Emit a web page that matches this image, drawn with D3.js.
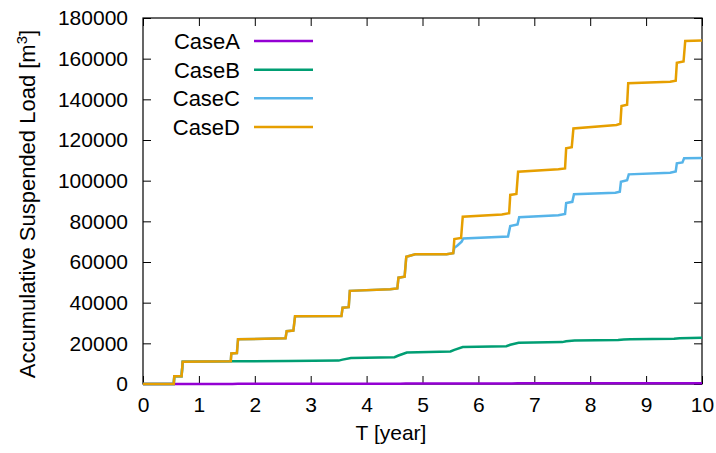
<!DOCTYPE html>
<html>
<head>
<meta charset="utf-8">
<script src="https://cdn.jsdelivr.net/npm/d3@7"></script>
<style>
  html, body { margin: 0; padding: 0; background: #fff; }
  svg { display: block; }
  text { font-family: "Liberation Sans", Arial, Helvetica, sans-serif; fill: #000; }
</style>
</head>
<body>
<svg id="chart" width="716" height="453"></svg>
<script>
// ---- data ----
const seriesNames = ["CaseA", "CaseB", "CaseC", "CaseD"];
const seriesColors = ["#9400d3", "#009e73", "#56b4e9", "#e69f00"];
const xTicks = [0, 1, 2, 3, 4, 5, 6, 7, 8, 9, 10];
const yTicks = [0, 20000, 40000, 60000, 80000, 100000, 120000, 140000, 160000, 180000];

const caseATime  = [0, 0.55, 0.6, 1.6, 1.7, 2.6, 2.7, 3.6, 3.7, 4.6, 4.7, 5.6, 5.7, 6.6, 6.7, 7.6, 7.7, 8.6, 8.7, 9.6, 9.7, 10];
const caseAValue = [0, 0, 30, 40, 80, 90, 120, 130, 170, 180, 220, 230, 270, 280, 310, 320, 350, 360, 390, 400, 420, 430];

const caseBTime  = [0, 0.55, 0.56, 0.69, 0.71, 1.57, 2.6, 3.5, 3.57, 3.72, 4.5, 4.57, 4.72, 5.5, 5.57, 5.72, 6.5, 6.57, 6.72, 7.5, 7.57, 7.72, 8.5, 8.6, 8.72, 9.5, 9.6, 10];
const caseBValue = [0, 0, 3800, 3800, 11000, 11200, 11300, 11500, 12000, 12800, 13200, 14000, 15500, 16000, 16800, 18200, 18600, 19300, 20300, 20600, 21000, 21400, 21600, 21900, 22000, 22200, 22500, 22700];

const caseCTime  = [0, 0.55, 0.56, 0.69, 0.71, 1.57, 1.58, 1.68, 1.70, 2.55, 2.57, 2.69, 2.72, 3.55, 3.57, 3.68, 3.70, 4.42, 4.55, 4.57, 4.68, 4.71, 4.87, 5.43, 5.55, 5.57, 5.62, 5.70, 5.73, 6.53, 6.57, 6.70, 6.73, 7.43, 7.55, 7.57, 7.68, 7.71, 8.45, 8.53, 8.55, 8.66, 8.69, 9.43, 9.53, 9.55, 9.65, 9.68, 10];
const caseCValue = [0, 0, 3800, 3800, 11000, 11200, 15000, 15200, 22000, 22500, 26000, 26300, 33300, 33400, 37500, 37800, 45800, 46600, 47000, 52300, 52800, 62600, 63800, 63800, 64300, 67000, 68000, 70000, 71600, 72500, 77700, 78500, 82000, 83000, 83600, 89000, 89600, 93300, 94100, 94600, 99500, 100200, 103100, 103900, 104500, 108500, 109000, 111000, 111200];

const caseDTime  = [0, 0.55, 0.56, 0.69, 0.71, 1.57, 1.58, 1.68, 1.70, 2.55, 2.57, 2.69, 2.72, 3.55, 3.57, 3.68, 3.70, 4.42, 4.55, 4.57, 4.68, 4.71, 4.87, 5.43, 5.55, 5.57, 5.69, 5.72, 6.42, 6.55, 6.57, 6.68, 6.71, 7.43, 7.55, 7.57, 7.67, 7.70, 8.47, 8.54, 8.56, 8.66, 8.68, 9.43, 9.53, 9.55, 9.67, 9.70, 10];
const caseDValue = [0, 0, 3800, 3800, 11000, 11200, 15000, 15200, 22000, 22500, 26000, 26300, 33300, 33400, 37500, 37800, 45800, 46600, 47000, 52300, 52800, 62600, 63800, 63800, 64300, 71300, 71800, 82300, 83400, 84000, 93000, 93500, 104400, 105600, 106000, 115900, 116500, 125700, 127400, 128000, 136700, 137300, 147900, 148700, 149200, 158000, 158600, 168700, 168900];

const seriesTimes = [caseATime, caseBTime, caseCTime, caseDTime];
const seriesValues = [caseAValue, caseBValue, caseCValue, caseDValue];

// ---- layout ----
const mLeft = 143, mRight = 702, mTop = 18, mBottom = 384;
const svg = d3.select("#chart");
const x = d3.scaleLinear().domain([0, 10]).range([mLeft, mRight]);
const y = d3.scaleLinear().domain([0, 180000]).range([mBottom, mTop]);

const tickLen = 8;
function styleAxis(g) {
  g.select(".domain").remove();
  g.selectAll(".tick line").attr("stroke", "#000").attr("stroke-width", 1);
  g.selectAll(".tick text").style("font-size", "21px").attr("fill", "#000")
    .attr("font-family", "Liberation Sans, Arial, sans-serif");
}

svg.append("g").attr("transform", `translate(0,${mBottom})`)
  .call(d3.axisBottom(x).tickValues(xTicks).tickSize(-tickLen).tickPadding(13).tickFormat(d3.format("d")))
  .call(styleAxis);
svg.append("g").attr("transform", `translate(0,${mTop})`)
  .call(d3.axisTop(x).tickValues(xTicks).tickSize(-tickLen).tickFormat(""))
  .call(styleAxis);
svg.append("g").attr("transform", `translate(${mLeft},0)`)
  .call(d3.axisLeft(y).tickValues(yTicks).tickSize(-tickLen).tickPadding(15).tickFormat(d3.format("d")))
  .call(styleAxis);
svg.append("g").attr("transform", `translate(${mRight},0)`)
  .call(d3.axisRight(y).tickValues(yTicks).tickSize(-tickLen).tickFormat(""))
  .call(styleAxis);

// frame
svg.append("rect")
  .attr("x", mLeft).attr("y", mTop)
  .attr("width", mRight - mLeft).attr("height", mBottom - mTop)
  .attr("fill", "none").attr("stroke", "#000").attr("stroke-width", 1.2);

// lines
const line = d3.line().x(d => x(d[0])).y(d => y(d[1]));
seriesNames.forEach((name, i) => {
  const pts = seriesTimes[i].map((t, j) => [t, seriesValues[i][j]]);
  svg.append("path")
    .datum(pts)
    .attr("d", line)
    .attr("fill", "none")
    .attr("stroke", seriesColors[i])
    .attr("stroke-width", 2.5)
    .attr("stroke-linejoin", "miter");
});

// legend
const legendY = d3.scalePoint().domain(seriesNames).range([41, 127]);
seriesNames.forEach((name, i) => {
  const yy = legendY(name);
  svg.append("text")
    .attr("x", 240).attr("y", yy).attr("dy", "0.36em")
    .attr("text-anchor", "end")
    .style("font-size", "22px")
    .text(name);
  svg.append("line")
    .attr("x1", 254).attr("x2", 313).attr("y1", yy).attr("y2", yy)
    .attr("stroke", seriesColors[i]).attr("stroke-width", 2.5);
});

// axis titles
svg.append("text")
  .attr("x", 391).attr("y", 440)
  .attr("text-anchor", "middle")
  .style("font-size", "21px")
  .text("T [year]");

const yt = svg.append("text")
  .attr("transform", "translate(35,204) rotate(-90)")
  .attr("text-anchor", "middle")
  .style("font-size", "22px");
yt.append("tspan").text("Accumulative Suspended Load [m");
yt.append("tspan").attr("baseline-shift", "super").style("font-size", "15px").text("3");
yt.append("tspan").text("]");
</script>
</body>
</html>
